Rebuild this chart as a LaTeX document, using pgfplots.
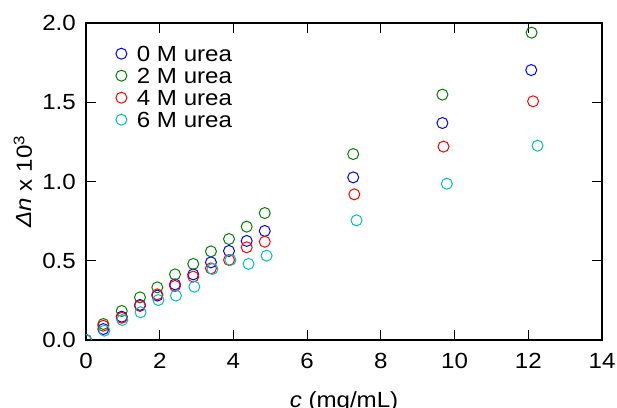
\documentclass[border=0pt]{standalone}
\usepackage{fontspec}
\setmainfont{Liberation Sans}[FakeStretch=1.1]
\usepackage{pgfplots}
\pgfplotsset{compat=1.18}
\definecolor{mblue}{rgb}{0,0,1}
\definecolor{mgreen}{rgb}{0,0.5,0}
\definecolor{mred}{rgb}{1,0,0}
\definecolor{mcyan}{rgb}{0,0.75,0.75}
\begin{document}
\begin{tikzpicture}
\begin{axis}[
  scale only axis, width=516bp, height=317bp,
  xmin=0, xmax=14, ymin=0, ymax=2,
  xtick={0,2,4,6,8,10,12,14}, ytick={0,0.5,1,1.5,2},
  xtick pos=both, ytick pos=both, tick align=inside,
  major tick length=10bp,
  tick style={line width=1bp, black},
  axis line style={line width=1.6bp},
  clip marker paths=true,
  font=\fontsize{22}{26}\selectfont,
  /pgf/number format/assume math mode=true,
  yticklabel style={/pgf/number format/fixed, /pgf/number format/fixed zerofill, /pgf/number format/precision=1, inner sep=0pt, anchor=east, xshift=-10bp},
  xticklabel style={inner sep=0pt, anchor=base, yshift=-28bp},
  xlabel={\textit{c} (mg/mL)},
  ylabel={\textit{Δn} x 10\textsuperscript{3}},
  xlabel style={at={(axis description cs:0.5,-0.2114)}, anchor=base, inner sep=0pt},
  ylabel style={at={(axis description cs:-0.1047,0.5)}, anchor=base, inner sep=0pt},
  legend style={draw=none, fill=none, at={(axis description cs:0,1)}, anchor=north west, xshift=29.7bp, yshift=-22.7bp, inner sep=0pt, row sep=0pt, column sep=10bp, nodes={inner sep=0pt, text height=16bp, text depth=6bp}},
  legend cell align=left,
  legend image code/.code={\draw[#1, only marks] plot coordinates {(5.5bp,3.2bp)};},
  every axis plot/.append style={only marks, mark=o, mark size=5.5bp, mark options={line width=1bp}},
]
\addplot[mblue] table {
0 0
0.47 0.069
0.97 0.147
1.465 0.221
1.935 0.280
2.415 0.351
2.91 0.414
3.39 0.490
3.88 0.562
4.36 0.625
4.85 0.688
7.25 1.026
9.67 1.369
12.08 1.703
};
\addlegendentry{0 M urea}
\addplot[mgreen] table {
0 0
0.47 0.101
0.97 0.183
1.465 0.269
1.935 0.332
2.415 0.414
2.91 0.480
3.39 0.559
3.88 0.637
4.36 0.715
4.85 0.801
7.25 1.173
9.67 1.548
12.09 1.939
};
\addlegendentry{2 M urea}
\addplot[mred] table {
0 0
0.47 0.090
0.97 0.140
1.465 0.215
1.935 0.288
2.415 0.341
2.91 0.400
3.39 0.452
3.88 0.505
4.36 0.585
4.85 0.620
7.28 0.919
9.70 1.220
12.13 1.506
};
\addlegendentry{4 M urea}
\addplot[mcyan] table {
0 0
0.50 0.059
0.985 0.126
1.48 0.175
1.965 0.252
2.44 0.280
2.94 0.336
3.43 0.448
3.92 0.505
4.41 0.480
4.90 0.532
7.34 0.755
9.79 0.986
12.25 1.226
};
\addlegendentry{6 M urea}
\end{axis}
\pgfresetboundingbox
\path[use as bounding box] (-86bp,-68bp) rectangle (531bp,340bp);
\end{tikzpicture}
\end{document}
